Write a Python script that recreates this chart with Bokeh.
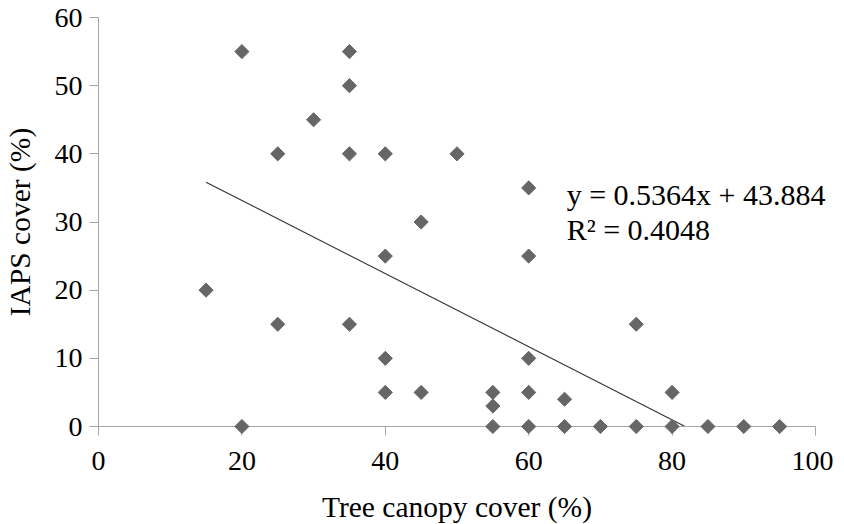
from bokeh.plotting import figure
from bokeh.models import Range1d, FixedTicker
from bokeh.core.properties import value
from bokeh.embed import file_html
from bokeh.resources import INLINE

# ---- data ----
canopy = [20, 35, 35, 30, 25, 35, 40, 50, 60, 45, 40, 60, 15, 25, 35, 75, 40, 60,
          40, 45, 55, 60, 80, 65, 55, 20, 55, 60, 65, 70, 75, 80, 85, 90, 95]
iaps = [55, 55, 50, 45, 40, 40, 40, 40, 35, 30, 25, 25, 20, 15, 15, 15, 10, 10,
        5, 5, 5, 5, 5, 4, 3, 0, 0, 0, 0, 0, 0, 0, 0, 0, 0]
slope = -0.5364
intercept = 43.884
eq_text = "y = 0.5364x + 43.884"
r2_text = "R²  = 0.4048"
x_ticks = [0, 20, 40, 60, 80, 100]
y_ticks = [0, 10, 20, 30, 40, 50, 60]
x_title = "Tree canopy cover (%)"
y_title = "IAPS cover (%)"

# trend line from smallest x to where it reaches y = 0
tx = [min(canopy), -intercept / slope]
ty = [slope * v + intercept for v in tx]

FONT = "'Liberation Serif', 'Times New Roman', serif"
AXIS_COL = "#a6a6a6"

p = figure(frame_width=717, frame_height=409,
           x_range=Range1d(0, 100), y_range=Range1d(0, 60),
           output_backend="svg", toolbar_location=None,
           min_border_left=93, min_border_right=18,
           min_border_top=17, min_border_bottom=90)

p.grid.visible = False
p.outline_line_color = None
p.background_fill_color = "white"
p.border_fill_color = "white"

p.xaxis.ticker = FixedTicker(ticks=x_ticks)
p.yaxis.ticker = FixedTicker(ticks=y_ticks)
for ax in (p.xaxis[0], p.yaxis[0]):
    ax.axis_line_color = AXIS_COL
    ax.major_tick_line_color = AXIS_COL
    ax.minor_tick_line_color = None
    ax.major_tick_out = 9
    ax.major_tick_in = 0
    ax.major_label_text_font = FONT
    ax.major_label_text_font_size = "28px"
    ax.major_label_text_color = "black"
    ax.axis_label_text_font = FONT
    ax.axis_label_text_font_size = "29.5px"
    ax.axis_label_text_font_style = "normal"
    ax.axis_label_text_color = "black"

p.xaxis.axis_label = x_title
p.yaxis.axis_label = y_title
p.xaxis.major_label_standoff = 16
p.yaxis.major_label_standoff = 7
p.xaxis.axis_label_standoff = 18
p.yaxis.axis_label_standoff = 16

p.line(tx, ty, line_color="#333333", line_width=1.1)

p.scatter(canopy, iaps, marker="square", size=10, angle=0.785398,
          fill_color="#666666", line_color="#666666", level="overlay")

p.text(x=[65.3, 65.3], y=[34.0, 28.9], text=[eq_text, r2_text],
       text_font=value(FONT), text_font_size="30px", text_color="black",
       text_baseline="alphabetic", text_align="left", level="overlay")

open("out.html", "w").write(file_html(p, INLINE))
